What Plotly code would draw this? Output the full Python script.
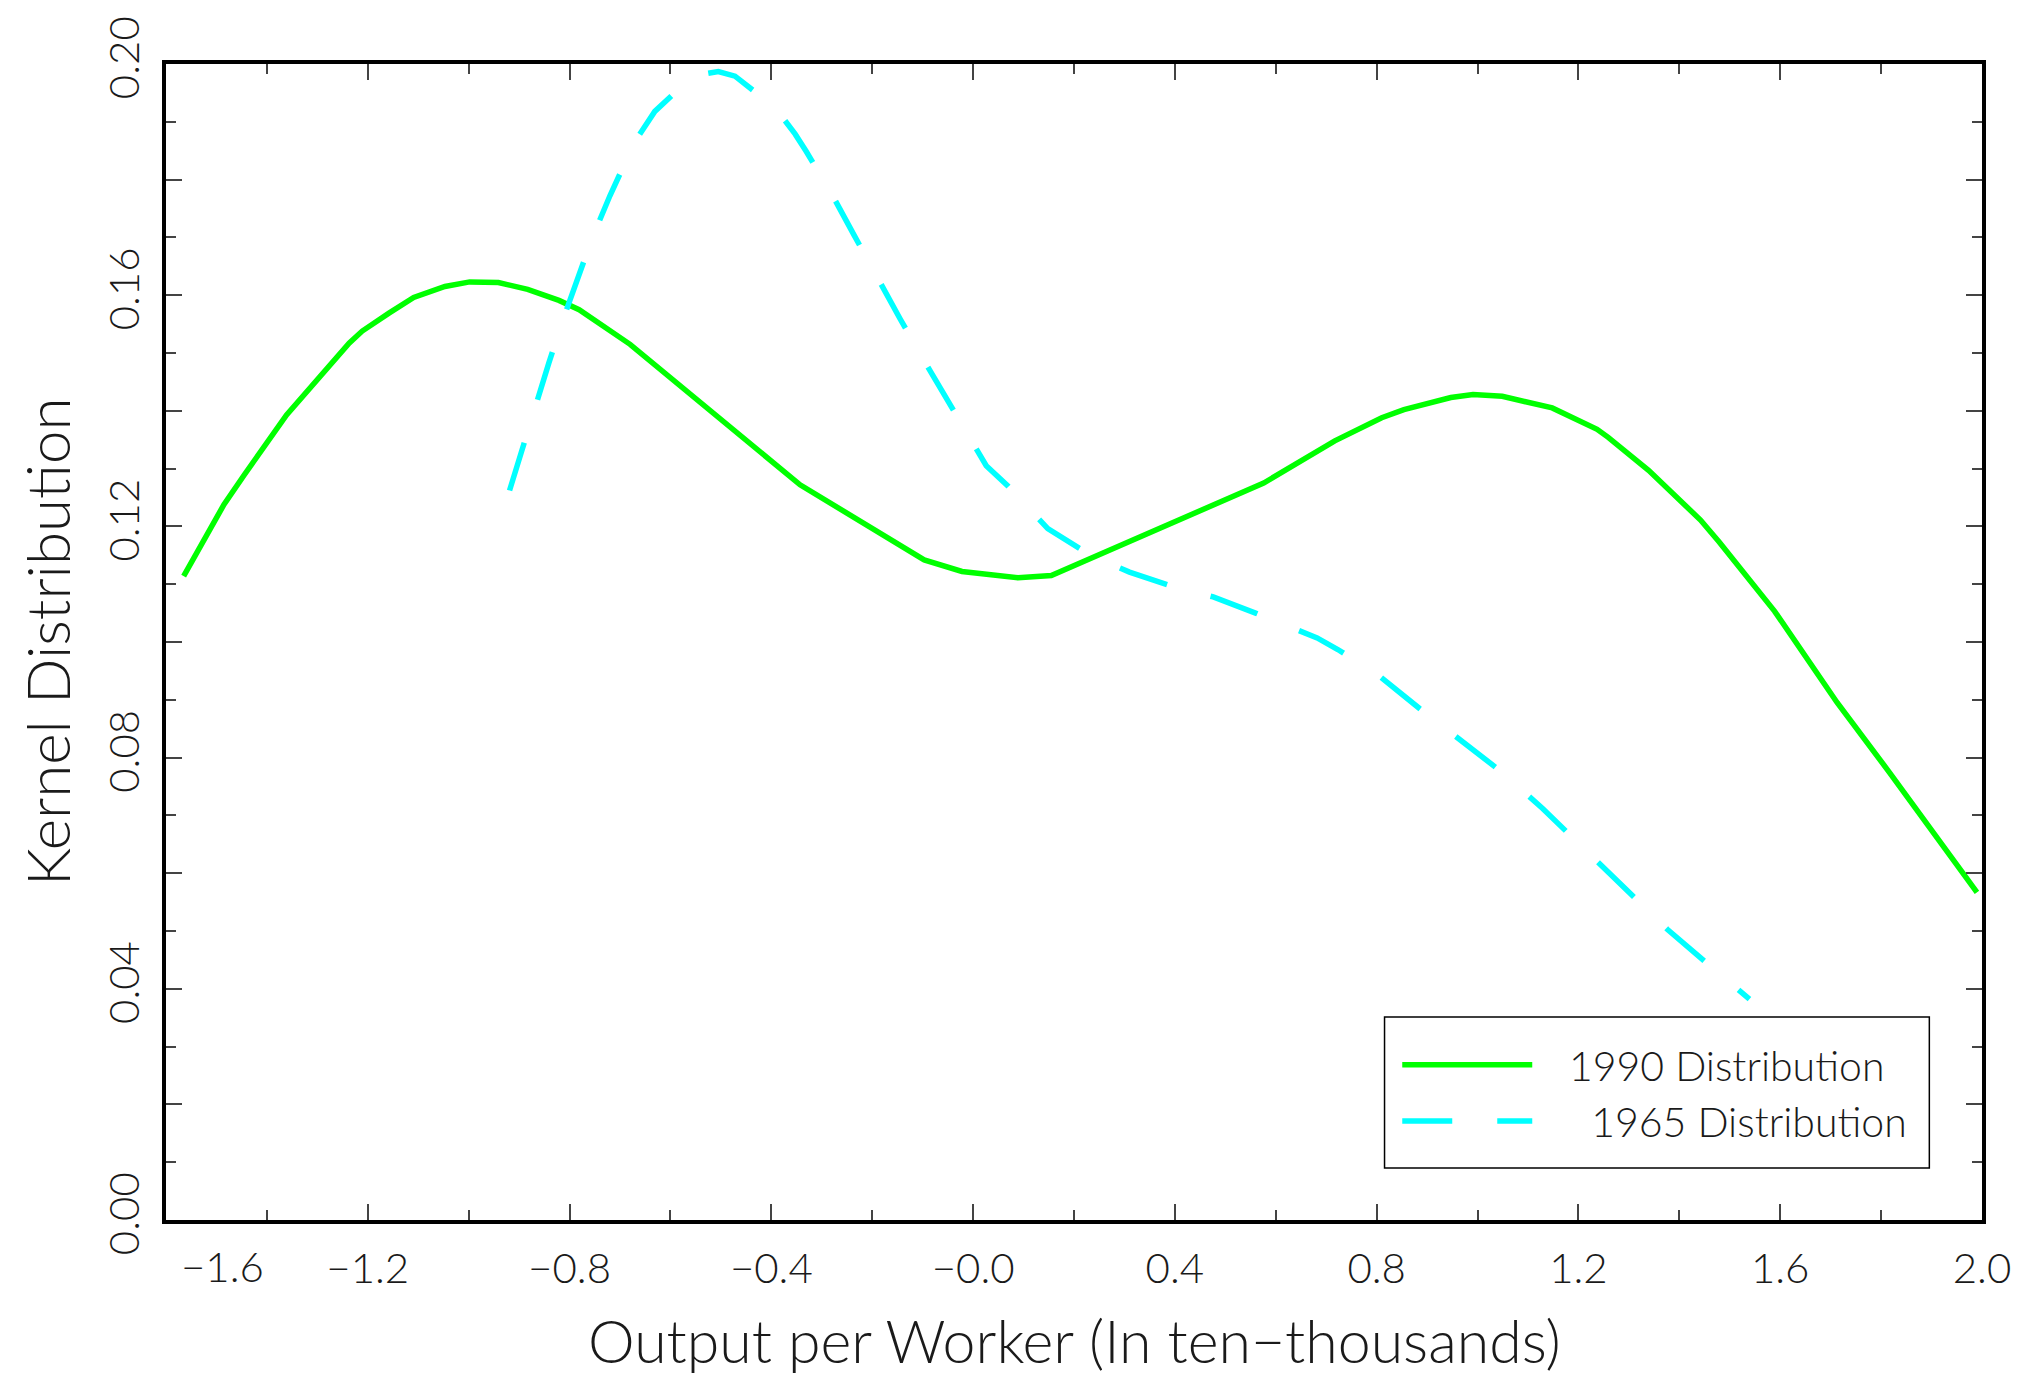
import plotly.graph_objects as go

# ---- data ----
x_1990 = [-1.565, -1.485, -1.445, -1.361, -1.237, -1.211, -1.158, -1.109, -1.047, -0.998,
          -0.941, -0.883, -0.821, -0.781, -0.680, -0.591, -0.503, -0.343, -0.097, -0.022,
          0.089, 0.155, 0.576, 0.717, 0.810, 0.854, 0.947, 0.991, 1.049, 1.148,
          1.237, 1.259, 1.339, 1.391, 1.442, 1.479, 1.589, 1.713, 1.816, 1.990]
y_1990 = [0.1114, 0.1238, 0.1289, 0.1393, 0.1517, 0.1538, 0.1569, 0.1596, 0.1615, 0.1623,
          0.1622, 0.1610, 0.1591, 0.1575, 0.1515, 0.1451, 0.1385, 0.1272, 0.1142, 0.1122,
          0.1111, 0.1115, 0.1275, 0.1348, 0.1388, 0.1402, 0.1423, 0.1428, 0.1425, 0.1405,
          0.1368, 0.1354, 0.1297, 0.1254, 0.1211, 0.1173, 0.1053, 0.0895, 0.0775, 0.0567]

x_1965 = [-0.919, -0.893, -0.868, -0.841, -0.815, -0.785, -0.755, -0.720, -0.682, -0.671,
          -0.631, -0.556, -0.505, -0.472, -0.392, -0.353, -0.331, -0.282, -0.236, -0.193,
          -0.144, -0.098, -0.048, -0.001, 0.026, 0.070, 0.148, 0.231, 0.310, 0.396,
          0.476, 0.560, 0.638, 0.682, 0.723, 0.803, 0.885, 0.965, 1.048, 1.129,
          1.212, 1.293, 1.359, 1.376, 1.459, 1.539]
y_1965 = [0.1262, 0.1337, 0.1409, 0.1483, 0.1553, 0.1628, 0.1699, 0.1772, 0.1843, 0.1865,
          0.1918, 0.1979, 0.1987, 0.1979, 0.1924, 0.1879, 0.1849, 0.1778, 0.1704, 0.1634,
          0.1558, 0.1488, 0.1413, 0.1344, 0.1305, 0.1269, 0.1196, 0.1151, 0.1121, 0.1096,
          0.1078, 0.1050, 0.1024, 0.1007, 0.0987, 0.0943, 0.0885, 0.0831, 0.0775, 0.0712,
          0.0642, 0.0573, 0.0516, 0.0503, 0.0441, 0.0382]

x_tickvals = [-1.2, -0.8, -0.4, 0.0, 0.4, 0.8, 1.2, 1.6, 2.0]
x_ticktext = ["\u22121.2", "\u22120.8", "\u22120.4", "\u22120.0", "0.4", "0.8", "1.2", "1.6", "2.0"]
x_first_label = "\u22121.6"
y_tickvals = [0.00, 0.02, 0.04, 0.06, 0.08, 0.10, 0.12, 0.14, 0.16, 0.18, 0.20]
y_ticktext = ["0.00", "", "0.04", "", "0.08", "", "0.12", "", "0.16", "", "0.20"]

name_1990 = "\u2002\u00a01990 Distribution"
name_1965 = "\u2002\u00a0\u00a0\u00a01965 Distribution"
x_title = "Output per Worker (In ten\u2212thousands)"
y_title = "Kernel Distribution"

FONT = "Lato"
TXT = "#1a1a1a"
TICKC = "#444444"

fig = go.Figure()
fig.add_trace(go.Scatter(x=x_1990, y=y_1990, mode="lines", name=name_1990,
                         line=dict(color="#00ff00", width=5.5)))
fig.add_trace(go.Scatter(x=x_1965, y=y_1965, mode="lines", name=name_1965,
                         line=dict(color="#00ffff", width=5.5, dash="50px,45px")))

axis_common = dict(showgrid=False, zeroline=False, showline=True, linecolor="black",
                   linewidth=3.5, mirror="allticks", ticks="inside", automargin=False,
                   tickcolor=TICKC, tickwidth=2, ticklen=16,
                   tickfont=dict(family=FONT, size=42, color=TXT, weight=300))

fig.update_xaxes(range=[-1.6, 2.0], tickmode="array", tickvals=x_tickvals,
                 ticktext=x_ticktext, ticklabelstandoff=9,
                 minor=dict(ticks="inside", tick0=-1.6, dtick=0.2, ticklen=10,
                            tickcolor=TICKC, tickwidth=2),
                 **axis_common)
fig.update_yaxes(range=[0, 0.20], tickmode="array", tickvals=y_tickvals,
                 ticktext=y_ticktext, tickangle=-90, ticklabelstandoff=6,
                 minor=dict(ticks="inside", tick0=0, dtick=0.01, ticklen=10,
                            tickcolor=TICKC, tickwidth=2),
                 **axis_common)

# axis titles (placed as annotations to sit at the page edges like the original)
fig.add_annotation(x=0.5, y=0, xref="paper", yref="paper", text=x_title,
                   showarrow=False, xanchor="center", yanchor="bottom", yshift=-158,
                   font=dict(family=FONT, size=59, color=TXT, weight=300))
fig.add_annotation(x=0, y=0.5, xref="paper", yref="paper", text=y_title,
                   showarrow=False, xanchor="center", yanchor="middle", xshift=-119,
                   textangle=-90,
                   font=dict(family=FONT, size=60, color=TXT, weight=300))

# first x label is offset right in the original, to clear the y label
fig.add_annotation(x=-1.6, y=0, xref="x", yref="paper", text=x_first_label,
                   showarrow=False, xanchor="center", yanchor="top",
                   xshift=56, yshift=-19,
                   font=dict(family=FONT, size=42, color=TXT, weight=300))

# legend frame
fig.add_shape(type="rect", xref="paper", yref="paper",
              x0=0.671, x1=0.971, y0=0.0449, y1=0.1756,
              line=dict(color="black", width=1.5), fillcolor="white", layer="below")

fig.update_layout(
    width=2033, height=1376,
    margin=dict(l=158, r=59, t=56, b=164),
    paper_bgcolor="white", plot_bgcolor="white",
    showlegend=True,
    legend=dict(x=0.678, y=0.163, xanchor="left", yanchor="top",
                bgcolor="rgba(0,0,0,0)", borderwidth=0,
                itemwidth=130, tracegroupgap=0,
                font=dict(family=FONT, size=41, color=TXT, weight=300)),
)

fig.write_html("out.html")
